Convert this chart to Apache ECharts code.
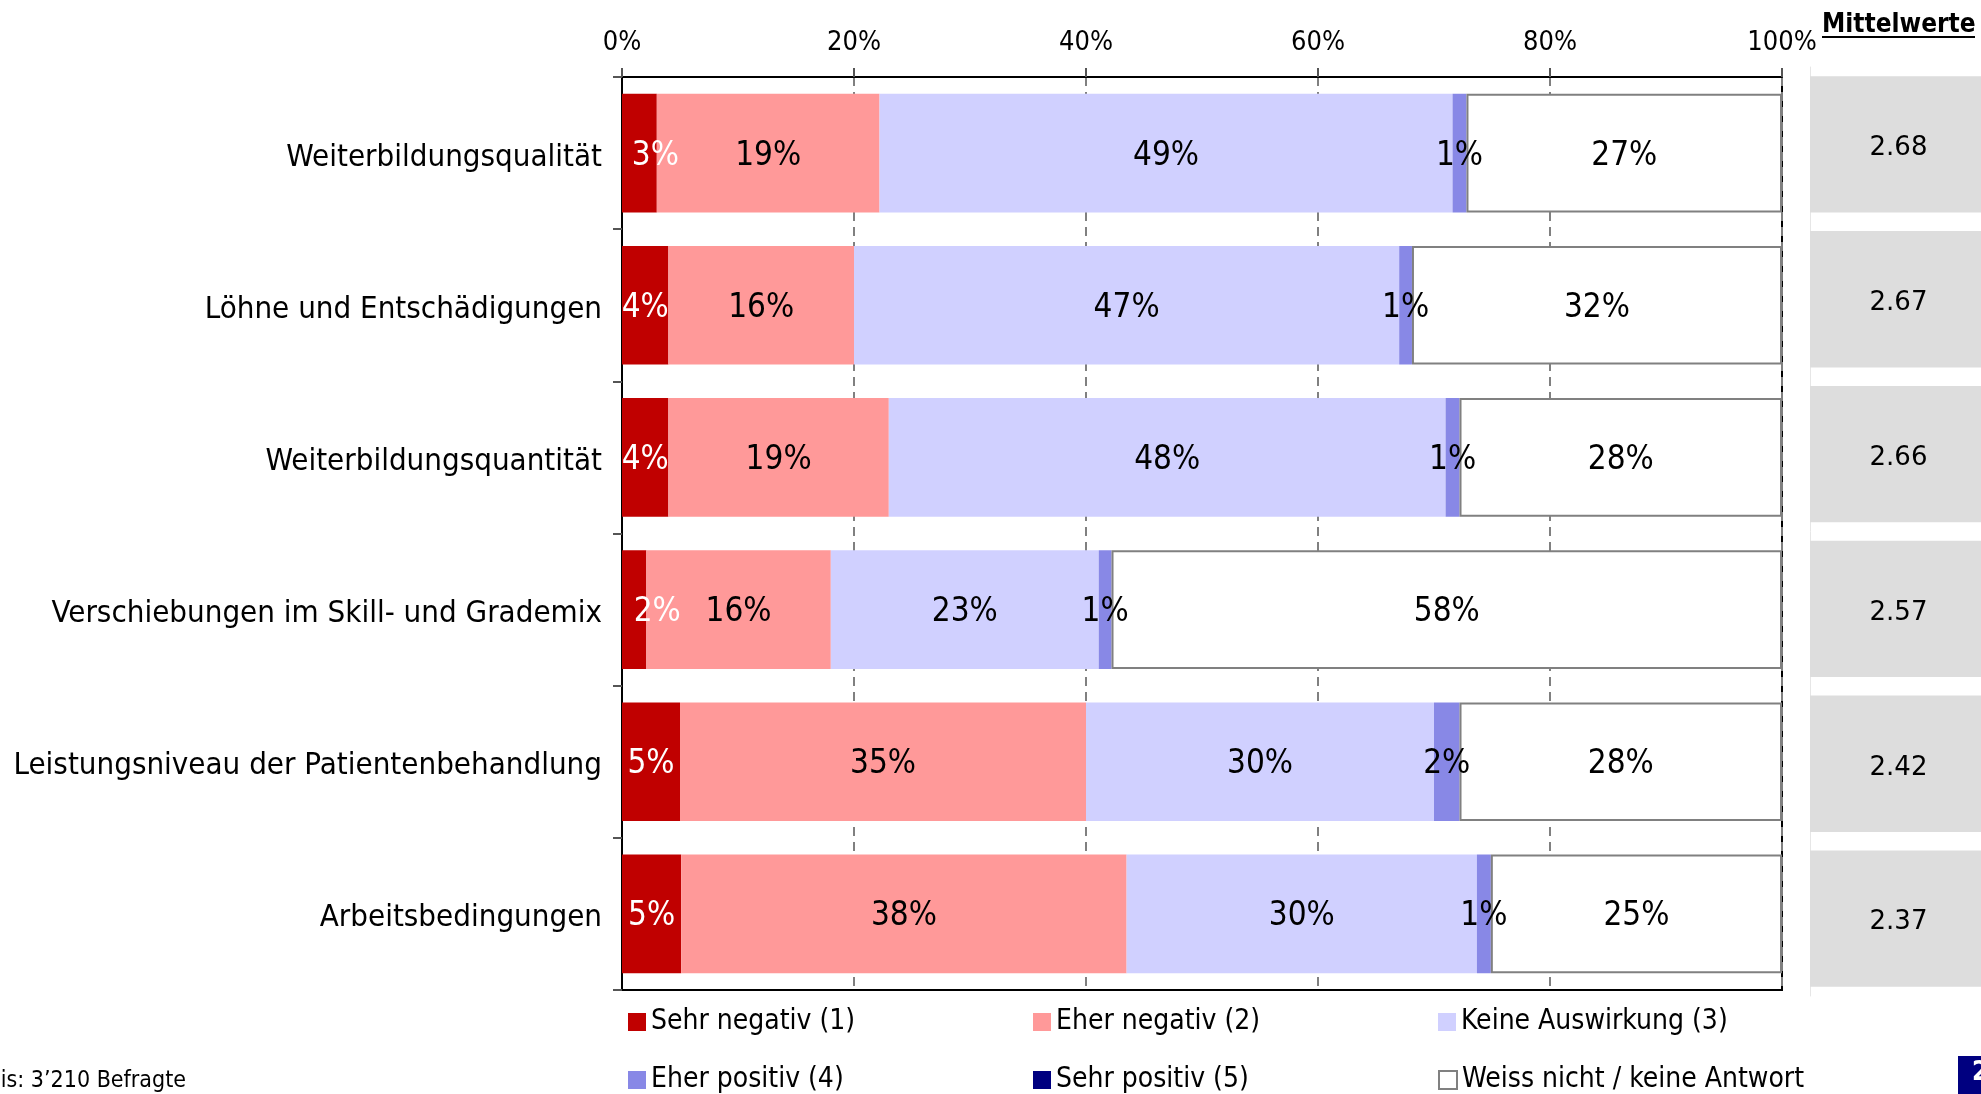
<!DOCTYPE html>
<html>
<head>
<meta charset="utf-8">
<script src="https://cdn.jsdelivr.net/npm/echarts@6/dist/echarts.min.js"></script>
<style>
  html, body { margin: 0; padding: 0; background: #fff; }
  #chart { width: 1981px; height: 1094px; }
</style>
</head>
<body>
<div id="chart"></div>
<script>
// Auswirkungen – Anteile der Antworten je Bereich (in %)
const categories = [
  'Weiterbildungsqualität',
  'Löhne und Entschädigungen',
  'Weiterbildungsquantität',
  'Verschiebungen im Skill- und Grademix',
  'Leistungsniveau der Patientenbehandlung',
  'Arbeitsbedingungen'
];
const seriesNames = [
  'Sehr negativ (1)', 'Eher negativ (2)', 'Keine Auswirkung (3)',
  'Eher positiv (4)', 'Sehr positiv (5)', 'Weiss nicht / keine Antwort'
];
const sehrNegativ     = [3.0, 4.0, 4.0, 2.1, 5.0, 5.1];
const eherNegativ     = [19.2, 16.0, 19.0, 15.9, 35.0, 38.4];
const keineAuswirkung = [49.4, 47.0, 48.0, 23.1, 30.0, 30.2];
const eherPositiv     = [1.2, 1.1, 1.2, 1.1, 2.2, 1.2];
const sehrPositiv     = [0, 0, 0, 0, 0, 0];
const weissNicht      = [27.2, 31.9, 27.8, 57.8, 27.8, 25.1];
const mittelwerte     = [2.68, 2.67, 2.66, 2.57, 2.42, 2.37];
const xTickPercent    = { min: 0, max: 100, interval: 20 };

const FONT = '"DejaVu Sans Condensed", "DejaVu Sans", sans-serif';
const colors = ['#C00000', '#FF9999', '#D0D0FF', '#8888E6', '#000080', '#FFFFFF'];
const values = [sehrNegativ, eherNegativ, keineAuswirkung, eherPositiv, sehrPositiv, weissNicht];

// Labels in very narrow first segments are nudged right so they stay inside the plot
const firstLabelShift = { 0: 16, 3: 23 };

const barSeries = values.map((arr, k) => ({
  name: seriesNames[k],
  type: 'bar',
  stack: 'total',
  xAxisIndex: 0,
  yAxisIndex: 0,
  barCategoryGap: '22%',
  data: arr.map((v, i) => (k === 0 && firstLabelShift[i])
    ? { value: v, label: { offset: [firstLabelShift[i], 3] } }
    : v),
  itemStyle: k === 5
    ? { color: colors[k], borderColor: '#808080', borderWidth: 2 }
    : { color: colors[k] },
  label: {
    show: true,
    position: 'inside',
    offset: [0, 3],
    fontFamily: FONT,
    fontSize: 33,
    color: k === 0 ? '#FFFFFF' : '#000000',
    formatter: p => (p.value > 0 ? Math.round(p.value) + '%' : '')
  },
  emphasis: { disabled: true }
}));

// Graue Kästchen mit den Mittelwerten rechts
const meanSeries = {
  type: 'custom',
  xAxisIndex: 1,
  yAxisIndex: 1,
  data: mittelwerte.map((m, i) => [m, i]),
  encode: { x: 0, y: 1 },
  renderItem: (params, api) => {
    const idx = api.value(1);
    const c = api.coord([0, idx]);
    const band = api.size([0, 1])[1];
    const h = band * 0.88;
    const cs = params.coordSys;
    return {
      type: 'group',
      children: [
        { type: 'rect', shape: { x: cs.x, y: c[1] - h / 2, width: cs.width, height: h },
          style: { fill: '#DDDDDD' } },
        { type: 'text', style: { text: api.value(0).toFixed(2), x: cs.x + cs.width / 2 + 3, y: c[1] + 4,
          align: 'center', verticalAlign: 'middle', fontSize: 26,
          fontFamily: '"DejaVu Sans", sans-serif', fill: '#000' } }
      ]
    };
  }
};

// Legende: zwei Zeilen à drei Spalten
const legendCols = [623, 1028, 1433];
const legendRows = [1003, 1061];
const legends = seriesNames.map((name, k) => ({
  data: [name],
  left: legendCols[k % 3],
  top: legendRows[Math.floor(k / 3)],
  icon: 'rect',
  itemWidth: 18,
  itemHeight: 18,
  selectedMode: false,
  textStyle: { fontFamily: FONT, fontSize: 28, color: '#000' }
}));

const option = {
  animation: false,
  backgroundColor: '#FFFFFF',
  grid: [
    { left: 622, top: 77, width: 1160, height: 913, show: true,
      borderColor: '#000', borderWidth: 2, backgroundColor: 'transparent' },
    { left: 1810, top: 67, width: 178, height: 929 }
  ],
  xAxis: [
    {
      gridIndex: 0, type: 'value', position: 'top',
      min: xTickPercent.min, max: xTickPercent.max, interval: xTickPercent.interval,
      axisLine: { show: true, lineStyle: { color: '#000', width: 2 } },
      axisTick: { show: true, length: 9, lineStyle: { color: '#555', width: 2 } },
      axisLabel: { formatter: '{value}%', fontFamily: FONT, fontSize: 27, color: '#000', margin: 21 },
      splitLine: { show: true, lineStyle: { color: '#808080', width: 2, type: [9, 6] } }
    },
    { gridIndex: 1, type: 'value', min: 0, max: 3, show: false }
  ],
  yAxis: [
    {
      gridIndex: 0, type: 'category', inverse: true, data: categories,
      axisLine: { show: true, lineStyle: { color: '#000', width: 2 } },
      axisTick: { show: true, length: 9, lineStyle: { color: '#555', width: 2 } },
      axisLabel: {
        color: '#000', margin: 20,
        formatter: v => '{c|' + v + '}',
        rich: { c: { fontFamily: FONT, fontSize: 31, color: '#000', padding: [9, 0, 0, 0] } }
      },
      splitLine: { show: false }
    },
    {
      gridIndex: 1, type: 'category', inverse: true, data: categories,
      axisLine: { show: true, lineStyle: { color: '#E6E6E6', width: 1 } },
      axisTick: { show: false }, axisLabel: { show: false }
    }
  ],
  legend: legends,
  graphic: [
    { type: 'text', left: 1822, top: 12,
      style: { text: 'Mittelwerte', fontFamily: FONT, fontSize: 26, fontWeight: 'bold', fill: '#000' } },
    { type: 'line', shape: { x1: 1822, y1: 37, x2: 1975, y2: 37 },
      style: { stroke: '#000', lineWidth: 2 } },
    { type: 'text', right: 1981 - 186, top: 1070,
      style: { text: 'Basis: 3’210 Befragte', fontFamily: FONT, fontSize: 23, fill: '#000' } },
    { type: 'rect', left: 1958, top: 1056, shape: { width: 30, height: 40 },
      style: { fill: '#000080' } },
    { type: 'text', left: 1972, top: 1060,
      style: { text: '2', fontFamily: FONT, fontSize: 26, fontWeight: 'bold', fill: '#FFFFFF' } }
  ],
  series: barSeries.concat([meanSeries])
};

const chart = echarts.init(document.getElementById('chart'), null, { renderer: 'canvas' });
chart.setOption(option);
</script>
</body>
</html>
